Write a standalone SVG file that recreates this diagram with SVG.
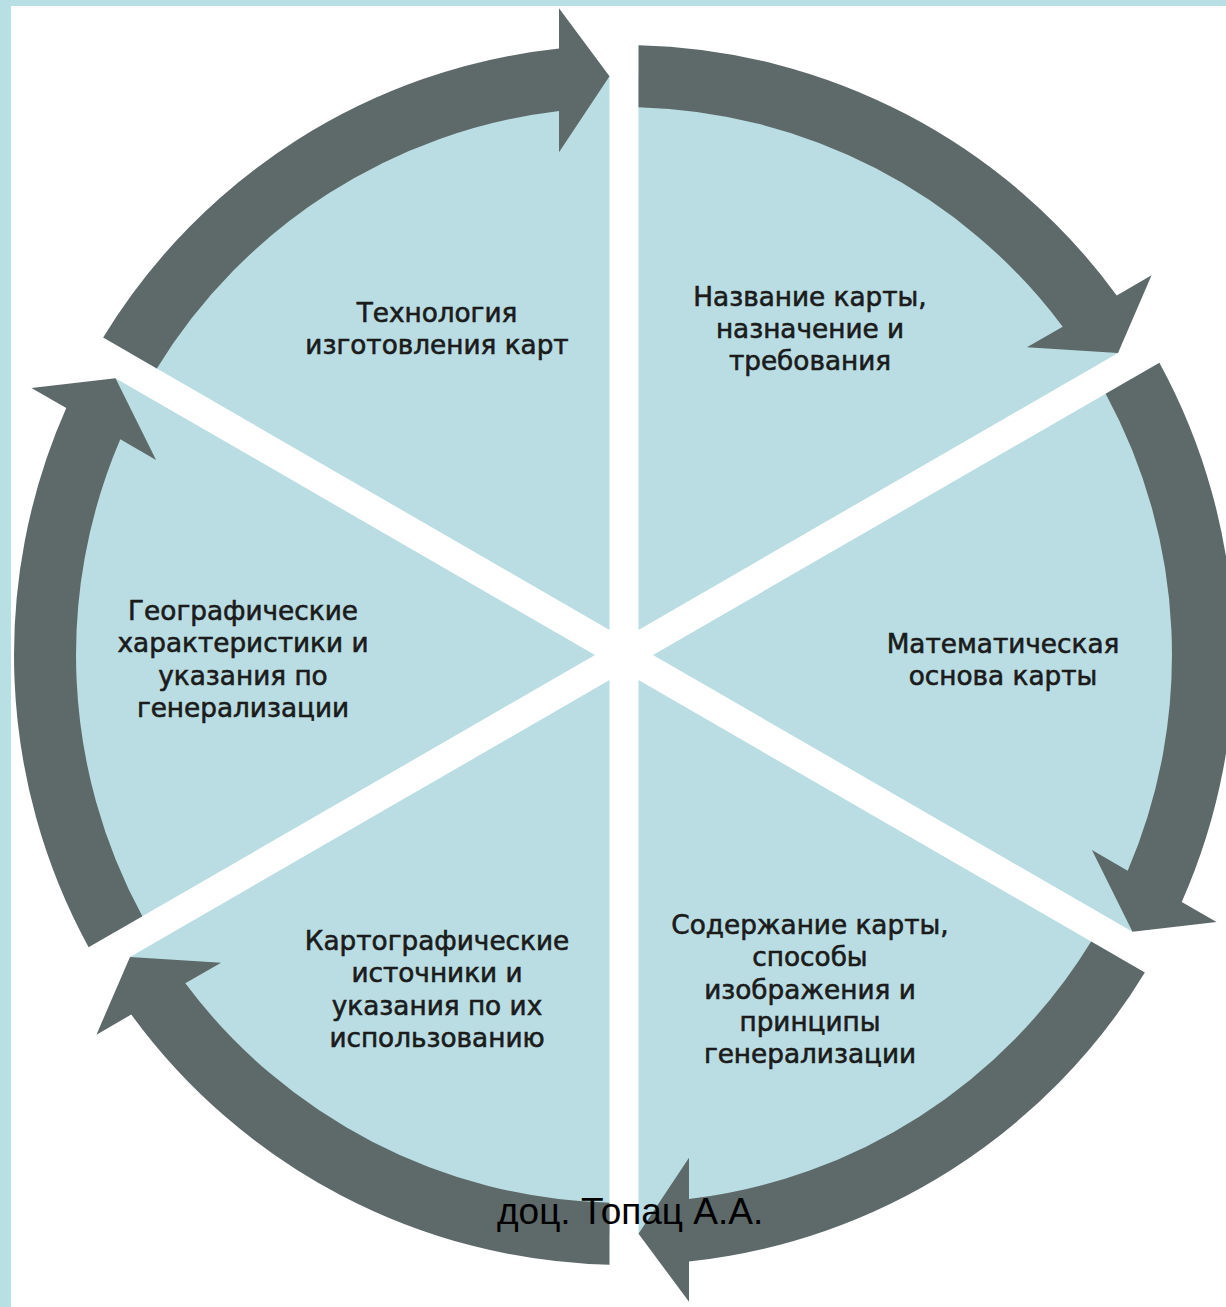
<svg xmlns="http://www.w3.org/2000/svg" xmlns:xlink="http://www.w3.org/1999/xlink" width="1226" height="1307" viewBox="0 0 1226 1307">
<style>
.sector{fill:#b9dde2}
.arrow{fill:#5e6969}
.lbl{font-family:"DejaVu Sans","Noto Sans",sans-serif;font-size:26.3px;fill:#1b1b1b;stroke:#1b1b1b;stroke-width:0.6px;text-anchor:middle}
.foot{font-family:"Liberation Sans",Arial,sans-serif;font-size:37px;fill:#000}
</style>
<defs>
<path id="sec" d="M -14.5,-25.1 L -494.01,-301.97 A 579 579 0 0 1 -14.5,-578.82 Z"/>
<path id="arr" d="M -520.87,-317.47 A 610 610 0 0 1 -65,-606.5 L -65,-646.7 L -14.5,-578.8 L -65,-502.8 L -65,-544.1 A 548 548 0 0 0 -467.16,-286.46 Z"/>
</defs>
<rect x="0" y="0" width="1226" height="1307" fill="#b8dfe3"/>
<rect x="11" y="6" width="1215" height="1301" fill="#ffffff"/>
<g id="node-technology">
<use xlink:href="#sec" class="sector" transform="translate(624,655)"/>
<text class="lbl" x="437" y="322">Технология</text>
<text class="lbl" x="437" y="354">изготовления карт</text>
</g>
<g id="node-name">
<use xlink:href="#sec" class="sector" transform="translate(624,655) rotate(60)"/>
<text class="lbl" x="810" y="306">Название карты,</text>
<text class="lbl" x="810" y="338">назначение и</text>
<text class="lbl" x="810" y="370">требования</text>
</g>
<g id="node-math">
<use xlink:href="#sec" class="sector" transform="translate(624,655) rotate(120)"/>
<text class="lbl" x="1003" y="653">Математическая</text>
<text class="lbl" x="1003" y="685">основа карты</text>
</g>
<g id="node-content">
<use xlink:href="#sec" class="sector" transform="translate(624,655) rotate(180)"/>
<text class="lbl" x="810" y="934">Содержание карты,</text>
<text class="lbl" x="810" y="966">способы</text>
<text class="lbl" x="810" y="999">изображения и</text>
<text class="lbl" x="810" y="1031">принципы</text>
<text class="lbl" x="810" y="1063">генерализации</text>
</g>
<g id="node-sources">
<use xlink:href="#sec" class="sector" transform="translate(624,655) rotate(240)"/>
<text class="lbl" x="437" y="950">Картографические</text>
<text class="lbl" x="437" y="982">источники и</text>
<text class="lbl" x="437" y="1015">указания по их</text>
<text class="lbl" x="437" y="1047">использованию</text>
</g>
<g id="node-geo">
<use xlink:href="#sec" class="sector" transform="translate(624,655) rotate(300)"/>
<text class="lbl" x="243" y="620">Географические</text>
<text class="lbl" x="243" y="652">характеристики и</text>
<text class="lbl" x="243" y="685">указания по</text>
<text class="lbl" x="243" y="717">генерализации</text>
</g>
<g id="connectors">
<use xlink:href="#arr" class="arrow" transform="translate(624,655)"/>
<use xlink:href="#arr" class="arrow" transform="translate(624,655) rotate(60)"/>
<use xlink:href="#arr" class="arrow" transform="translate(624,655) rotate(120)"/>
<use xlink:href="#arr" class="arrow" transform="translate(624,655) rotate(180)"/>
<use xlink:href="#arr" class="arrow" transform="translate(624,655) rotate(240)"/>
<use xlink:href="#arr" class="arrow" transform="translate(624,655) rotate(300)"/>
</g>
<text class="foot" x="497" y="1224">доц. Топац А.А.</text>
</svg>
